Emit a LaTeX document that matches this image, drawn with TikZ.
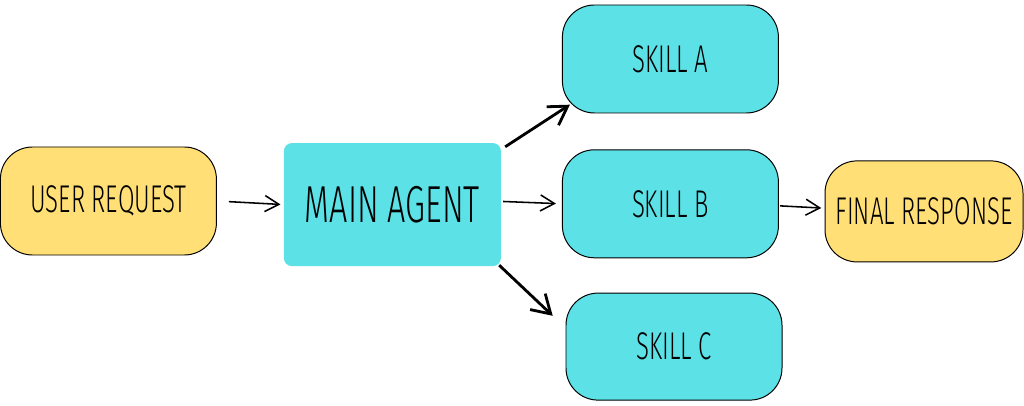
\documentclass[tikz,border=0pt]{standalone}
\usepackage{fontspec}
\setmainfont{Fira Sans Light}[FakeStretch=0.62]
\usepackage{tikz}
\usetikzlibrary{arrows.meta,positioning}
\definecolor{reqyellow}{HTML}{FFDF76}
\definecolor{agentcyan}{HTML}{5CE1E6}

\begin{document}
\begin{tikzpicture}[every node/.style={font=\fontsize{27.5}{32}\selectfont}]
\tikzstyle{box}=[draw, line width=0.7pt, rounded corners=0.8cm, minimum height=2.7cm, minimum width=5.4cm, align=center]
\tikzstyle{io}=[box, fill=reqyellow]
\tikzstyle{skillbox}=[box, fill=agentcyan]
\tikzstyle{flow}=[line width=1.1pt, -{Straight Barb[length=3.5mm, width=4mm]}]
\tikzstyle{branch}=[line width=2pt, -{Straight Barb[length=4.5mm, width=5.5mm]}]
\useasboundingbox (0,0) rectangle (25.6,10.125);
\node[io] (req) at (2.71,5.1) {USER REQUEST};
\node[fill=agentcyan, rounded corners=0.2cm, minimum height=3.075cm, minimum width=5.425cm, font=\fontsize{37}{42}\selectfont] (agent) at (9.81,5.01) {MAIN AGENT};
\node[skillbox] (skA) at (16.76,8.65) {SKILL A};
\node[skillbox] (skB) at (16.76,5.03) {SKILL B};
\node[skillbox, minimum height=2.675cm] (skC) at (16.85,1.46) {SKILL C};
\node[io, minimum width=4.95cm, minimum height=2.525cm] (resp) at (23.1,4.84) {FINAL RESPONSE};
% arrows
\draw[flow, shorten <=0.3cm, shorten >=0.08cm] (req.east) -- (agent.west);
\draw[branch] ([xshift=1mm, yshift=-1mm]agent.north east) -- ([xshift=2mm, yshift=2.2mm]skA.south west);
\draw[flow, shorten <=0.05cm, shorten >=0.15cm] ([yshift=0.08cm]agent.east) -- (skB.west);
\draw[branch] ([xshift=-0.5mm, yshift=0.3mm]agent.south east) -- ([xshift=-3.2mm, yshift=-5.8mm]skC.north west);
\draw[flow, shorten <=0.03cm, shorten >=0.08cm] ([yshift=-0.05cm]skB.east) -- ([yshift=0.08cm]resp.west);
\end{tikzpicture}
\end{document}
